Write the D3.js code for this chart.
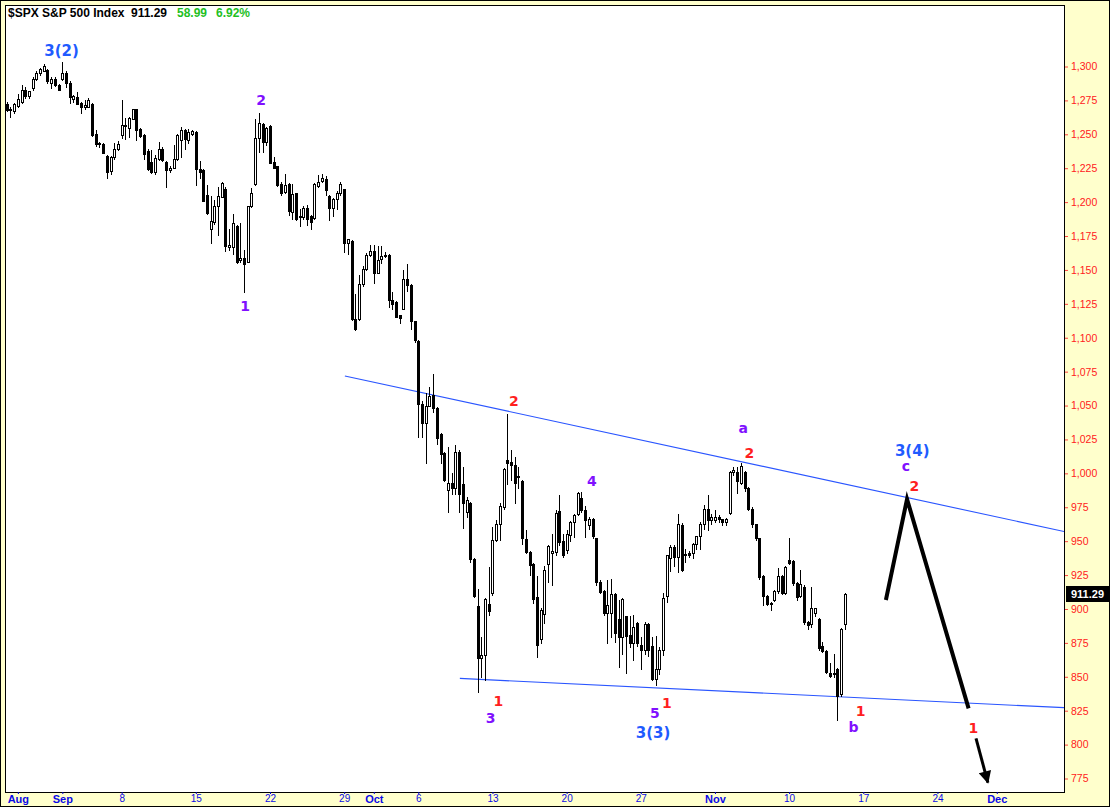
<!DOCTYPE html>
<html><head><meta charset="utf-8">
<script src="https://cdn.jsdelivr.net/npm/d3@7"></script>
<style>
html,body{margin:0;padding:0;background:#fff;}
svg{display:block;}
</style></head><body>
<svg id="chart" width="1110" height="807"></svg>
<script>
// ---------------- DATA ----------------
const calendarStart = "2008-08-26";
const calendarEnd = "2008-12-05";
const holidays = ["2008-09-01", "2008-11-27"];
const barsPerDay = 4;
const firstSlot = 1; // first visible bar = 2nd bar of Aug 26

const opens = [
1272,1268,1267,
1271,1274,1283,1278, 1284,1291,1295.5,1297, 1297.5,1288,1291,1286.5,
1290.5,1295,1288,1276, 1277.5,1273,1270,1270.5, 1272,1250,1243.5,1243, 1234,1223,1233.5,1239,
1249.5,1257,1255,1261.5, 1268.5,1254,1249.5,1238, 1229.5,1222,1231.5,1239.5, 1229.5,1224,1225.5,1231.5, 1246,1253,1246,1250.5,
1251.5,1224.5,1223.5,1205.5, 1180,1185,1197,1204, 1210,1167,1167,1182.5, 1157,1159,1156,1197.5, 1213,1247,1257.5,1244,
1256,1229.5,1226.5,1213.5, 1207.5,1213.5,1193,1206.5, 1190,1189,1195.5,1190, 1188,1212,1215.5,1217, 1204.5,1195.5,1202,1207,
1209.5,1170,1171.5,1113.5, 1113.5,1139.5,1151,1161, 1164,1148,1158,1161, 1161,1128,1126.5,1116.5, 1121,1143,1139,1112,
1097.5,1051,1037.5,1049.5, 1057.5,1048.5,1029,1015, 988,993,989.5,1016, 992.5,971.5,978,937, 902,863.5,866,904,
912,951,963,975.5, 1010,1008.5,1006,998, 994.5,951.5,942,933, 909,877.5,896.5,933.5, 941.5,942,972,950,
943.5,954.5,964,970, 982,973,962,966, 952,920,913.5,897, 897,911,892.5,879, 894.5,881,875,890,
873.5,870,889,872.5, 848,855.5,870,909.5, 937.5,945.5,938,962, 939.5,941,941,948, 953.5,962.5,974,965.5,
965.5,967.5,966,964, 970.5,1001,1001,993, 1001,989.5,974,962.5, 952,924.5,909.5,904.5, 906.5,913,924.5,912,
936,935.5,919.5,909.5, 916.5,890.5,889,897, 892.5,872.5,869,853, 853,856,837.5,889
];
const highs = [
1274,1270,1273,
1280,1286,1285,1282, 1292,1297,1299,1301.5, 1298,1292,1292,1287,
1303,1297,1289.5,1279, 1281,1273.5,1275,1276.5, 1273,1253,1244,1243.5, 1234.5,1234,1243.5,1245,
1275,1262,1263,1269, 1269,1255,1250,1239, 1238.5,1235,1244,1240.5, 1230,1226.5,1242,1250, 1255.5,1254,1254,1253.5,
1252.5,1230,1224.5,1212.5, 1204.5,1201.5,1211.5,1214.5, 1211,1180,1191.5,1183, 1184.5,1164.5,1197.5,1210.5, 1261,1265.5,1258,1255.5,
1256.5,1233.5,1227,1215, 1221,1214,1213.5,1207, 1195,1197,1198,1190.5, 1214,1220,1220.5,1219, 1205,1203,1208,1215,
1210,1173,1172,1132.5, 1146,1153,1162.5,1168.5, 1168.5,1167.5,1167.5,1163, 1161.5,1134,1127,1117, 1150,1154.5,1139.5,1112.5,
1098,1053,1059,1063.5, 1073,1049,1029.5,1016, 1019.5,1000,1021,1017, 1005,982.5,979,937.5, 915,879,908,931,
960.5,965.5,978,1004, 1044,1017.5,1012,1005, 995,958,943,934, 924,901,931.5,947, 955,973,984,955,
958,965,970,986, 986.5,976,968,967, 952.5,921,914,921, 922,912,906.5,908, 895,895,895.5,890.5,
879,890.5,889.5,879.5, 880,872,911.5,940, 947,947,970,963.5, 944,943,949,954, 964,976.5,984,970,
973,969,966.5,967, 1002,1005,1005,1008, 1002,990,975,963, 952.5,925,910,905, 914,930,925,931.5,
952,936,920,928.5, 918,891,916.5,901, 893,876,869.5,860, 866.5,856.5,886,911.5
];
const lows = [
1267,1263,1266,
1270,1273,1277,1277, 1283,1290,1294,1297, 1287.5,1284.5,1285.5,1282.5,
1290,1285,1273,1273.5, 1272,1266,1269,1270, 1248.5,1241.5,1241,1236, 1217.5,1221,1232,1238.5,
1247,1246.5,1248,1261, 1246,1248,1232,1223.5, 1221.5,1221,1231,1230.5, 1211.5,1222.5,1225,1231, 1233.5,1239.5,1243.5,1249.5,
1212.5,1217.5,1200.5,1191.5, 1169.5,1184,1176,1203.5, 1164,1164.5,1161.5,1155, 1156,1133.5,1155.5,1196.5, 1212.5,1237,1237,1242,
1228.5,1225,1212,1205.5, 1206.5,1190.5,1187.5,1187, 1182.5,1187.5,1183,1180, 1187.5,1211.5,1214.5,1205.5, 1187,1189.5,1195,1205,
1163,1162,1113,1106, 1113,1138,1150,1160, 1140.5,1147.5,1155,1159.5, 1122.5,1121.5,1115,1111, 1121,1134.5,1106.5,1097,
1026.5,1026.5,1007.5,1049.5, 1045.5,1022,1007.5,994, 971.5,985,985,971.5, 959.5,968,935,909, 839,850,847.5,895.5,
910,950,951,974, 992.5,995,978,989, 948,941,925,904.5, 864.5,875,890,920, 917.5,939.5,947,938.5,
941,950,953,969, 971.5,953,959,952, 918,911.5,895.5,875, 879,876,857.5,867, 852.5,872,862.5,873,
856,867,865,847.5, 844,852,866,905, 928,932,927.5,928, 935,938,937.5,944, 944.5,959,958,963,
964,964,962,962, 970,999,985.5,992, 987,973,960.5,951, 922,903,903,899, 906,912,911,911,
933,918,906.5,909, 889,885,887,895, 870,868.5,852.5,850, 850,818.5,835.5,885.5
];
const closes = [
1268,1269,1272,
1276,1283,1278,1282, 1291,1295.5,1298,1300.5, 1289,1291,1286,1283,
1295,1287.5,1277.5,1278.5, 1272.5,1270,1271.5,1275, 1249.5,1243,1242.5,1236.5, 1222.5,1233.5,1239,1243,
1257,1256,1262,1268.5, 1253.5,1249,1235.5,1224.5, 1222,1232.5,1239.5,1231, 1223.5,1225.5,1231.5,1249.5, 1253,1246.5,1251.5,1252.5,
1224.5,1222.5,1201,1192, 1186,1197,1204.5,1214, 1168,1168.5,1184.5,1156, 1159,1154.5,1197,1206.5, 1247,1258,1244,1255,
1229,1225.5,1212.5,1207, 1212.5,1193.5,1206,1187.5, 1189,1195.5,1187.5,1185.5, 1213,1215,1217.5,1209, 1196,1202,1206.5,1213.5,
1170,1172.5,1113.5,1106.5, 1139.5,1151,1161,1164, 1148,1157.5,1160,1161, 1128,1125,1115,1114.5, 1143,1139,1112,1098.5,
1051,1037.5,1049.5,1057, 1048.5,1026,1014,995, 993,989,1016,985, 978,980,936.5,909.5, 863.5,866,907.5,898.5,
951,963,976,1003, 1007.5,1006,993,997, 952,942,932.5,907, 873.5,899.5,929,946.5, 942.5,970.5,949.5,940,
955,964,969.5,985.5, 973,965.5,966,953.5, 920,912.5,897,903, 911,882.5,879,907, 880,875,887,875,
869.5,889,870,848, 855.5,870,908,939.5, 945.5,938,963,928.5, 940.5,940,948,953.5, 963,974,965.5,968,
968,966,964.5,966, 1001,1002.5,994,1005.5, 989,974,962.5,952, 923.5,909.5,903.5,903.5, 913,924.5,912,931,
934,919.5,909,918.5, 890.5,888,901,900.5, 871,869,853.5,850.5, 852,836,885.5,911.29
];

const tickDates = ["2008-08-27","2008-09-02","2008-09-08","2008-09-15","2008-09-22","2008-09-29","2008-10-01","2008-10-06","2008-10-13","2008-10-20","2008-10-27","2008-11-03","2008-11-10","2008-11-17","2008-11-24","2008-12-01"];
const tickLabels = ["Aug","Sep","8","15","22","29","Oct","6","13","20","27","Nov","10","17","24","Dec"];
const monthLabels = ["Aug","Sep","Oct","Nov","Dec"];
const priceTicks = [775,800,825,850,875,900,925,950,975,1000,1025,1050,1075,1100,1125,1150,1175,1200,1225,1250,1275,1300];

const lastPrice = 911.29, netChange = 58.99, pctChange = 6.92;

// trend lines [slot, price]
const upperLineSlots = [92.2, 286.4], upperLinePrices = [1071.8, 957];
const lowerLineSlots = [123.2, 286.4], lowerLinePrices = [848.8, 827.2];
// projected path
const projSlots = [238.1, 243.8, 260.4], projPrices = [906.6, 981, 826.7];
const arrowSlots = [262.4, 265.6], arrowPrices = [804.6, 772];

// wave labels
const waveText  = ["3(2)","2","1","2","a","2","4","3(4)","c","2","1","3","5","1","3(3)","1","b","1"];
const waveKind  = ["blue","purple","purple","red","purple","red","purple","blue","purple","red","red","purple","purple","red","blue","red","purple","red"];
const waveSlot  = [15.8,69.6,65.3,137.8,199.6,201.3,158.8,245.2,243.5,245.8,133.6,131.5,175.8,179,175.3,231.3,229.4,261.7];
const wavePrice = [1307.6,1271.6,1119.7,1049.8,1029.5,1011.1,990.6,1013.1,1001.9,987.1,828.4,815.8,819.3,827.1,804.8,821.0,809.6,808.2];

// ---------------- CHART ----------------
function tradingDays(startISO, endISO, hol) {
  const out = [];
  const d = new Date(startISO + "T12:00:00Z");
  const end = new Date(endISO + "T12:00:00Z");
  while (d <= end) {
    const wd = d.getUTCDay();
    const iso = d.toISOString().slice(0, 10);
    if (wd !== 0 && wd !== 6 && !hol.includes(iso)) out.push(iso);
    d.setUTCDate(d.getUTCDate() + 1);
  }
  return out;
}
const days = tradingDays(calendarStart, calendarEnd, holidays);

const W = 1110, H = 807;
const PL = 5, PT = 5, PR = 1065, PB = 792;
const kindColor = {blue: "#1f5bff", purple: "#8010ff", red: "#ff1f1f"};
const kindSize = {blue: 15, purple: 14, red: 14};

const svg = d3.select("#chart");
svg.append("rect").attr("x", 0.5).attr("y", 0.5).attr("width", W - 1).attr("height", H - 1)
  .attr("fill", "#ffffcc").attr("stroke", "#000");
svg.append("rect").attr("x", PL + 0.5).attr("y", PT + 0.5).attr("width", PR - PL - 1).attr("height", PB - PT)
  .attr("fill", "#fff").attr("stroke", "#000");

svg.append("clipPath").attr("id", "clip").append("rect")
  .attr("x", PL + 1).attr("y", PT + 1).attr("width", PR - PL - 2).attr("height", PB - PT - 1);

const x = d3.scaleLinear().domain([0, 286.4]).range([3, 1065]);
const y = d3.scaleLinear().domain([775, 1300]).range([778.5, 66.5]);

const bars = opens.map((o, i) => ({slot: firstSlot + i, o, h: highs[i], l: lows[i], c: closes[i]}));

const g = svg.append("g").attr("clip-path", "url(#clip)");

// trend lines
const lineGen = d3.line().x(d => x(d[0])).y(d => y(d[1]));
g.append("path").datum(upperLineSlots.map((s, i) => [s, upperLinePrices[i]]))
  .attr("d", lineGen).attr("fill", "none").attr("stroke", "#2a55ff").attr("stroke-width", 1.1);
g.append("path").datum(lowerLineSlots.map((s, i) => [s, lowerLinePrices[i]]))
  .attr("d", lineGen).attr("fill", "none").attr("stroke", "#2a55ff").attr("stroke-width", 1.1);

// candles
const cg = g.append("g").attr("shape-rendering", "crispEdges");
bars.forEach(b => {
  const cx = Math.round(x(b.slot));
  const yh = Math.round(y(b.h)), yl = Math.round(y(b.l));
  const yo = Math.round(y(b.o)), yc = Math.round(y(b.c));
  const top = Math.min(yo, yc), bot = Math.max(yo, yc);
  const up = b.c >= b.o;
  cg.append("line").attr("x1", cx + 0.5).attr("x2", cx + 0.5).attr("y1", yh).attr("y2", yl + 1)
    .attr("stroke", "#000").attr("stroke-width", 1);
  cg.append("rect").attr("x", cx - 0.5).attr("y", top + 0.5).attr("width", 2).attr("height", Math.max(bot - top, 1))
    .attr("fill", up ? "#fff" : "#000").attr("stroke", "#000").attr("stroke-width", 1);
});

// projection path
g.append("path").datum(projSlots.map((s, i) => [s, projPrices[i]]))
  .attr("d", lineGen).attr("fill", "none").attr("stroke", "#000").attr("stroke-width", 4)
  .attr("stroke-linejoin", "miter").attr("stroke-miterlimit", 10);

// arrow
svg.append("defs").append("marker").attr("id", "ah").attr("viewBox", "0 0 10 10")
  .attr("refX", 9).attr("refY", 5).attr("markerWidth", 5).attr("markerHeight", 4.2)
  .attr("orient", "auto").attr("markerUnits", "strokeWidth")
  .append("path").attr("d", "M0,0 L10,5 L0,10 Z").attr("fill", "#000");
g.append("path").datum(arrowSlots.map((s, i) => [s, arrowPrices[i]]))
  .attr("d", lineGen).attr("fill", "none").attr("stroke", "#000").attr("stroke-width", 3)
  .attr("marker-end", "url(#ah)");

// wave labels
g.selectAll("text.wave").data(waveText).join("text").attr("class", "wave")
  .attr("x", (d, i) => x(waveSlot[i])).attr("y", (d, i) => y(wavePrice[i]))
  .attr("text-anchor", "middle")
  .attr("font-family", "'DejaVu Sans', Verdana, sans-serif").attr("font-weight", "bold")
  .attr("font-size", (d, i) => kindSize[waveKind[i]])
  .attr("fill", (d, i) => kindColor[waveKind[i]])
  .text(d => d);

// right price axis
const yAxis = d3.axisRight(y).tickValues(priceTicks).tickFormat(d3.format(",")).tickSize(3).tickPadding(3);
const ya = svg.append("g").attr("transform", `translate(${PR},0)`).call(yAxis);
ya.select(".domain").remove();
ya.selectAll(".tick line").attr("stroke", "#ff4040");
ya.selectAll(".tick text").attr("fill", "#ff2020")
  .attr("font-family", "'Liberation Sans', Arial, sans-serif").attr("font-size", 10.5);

// last price box
const lpY = y(lastPrice);
svg.append("rect").attr("x", PR + 1).attr("y", Math.round(lpY) - 8).attr("width", 43).attr("height", 16).attr("fill", "#000");
svg.append("text").attr("x", PR + 22.5).attr("y", Math.round(lpY) + 4).attr("text-anchor", "middle")
  .attr("font-family", "'Liberation Sans', Arial, sans-serif").attr("font-weight", "bold").attr("font-size", 11)
  .attr("fill", "#fff").text(d3.format(".2f")(lastPrice));

// bottom date axis
const tickSlots = tickDates.map(dt => days.indexOf(dt) * barsPerDay);
const xAxis = d3.axisBottom(x).tickValues(tickSlots).tickFormat((d, i) => tickLabels[i]).tickSize(2).tickPadding(1);
const xa = svg.append("g").attr("transform", `translate(0,${PB})`).call(xAxis);
xa.select(".domain").remove();
xa.selectAll(".tick line").attr("stroke", "#0000cc");
xa.selectAll(".tick text").attr("fill", "#0a0ae6")
  .attr("font-family", "'Liberation Sans', Arial, sans-serif")
  .attr("font-size", (d, i) => monthLabels.includes(tickLabels[i]) ? 11 : 10)
  .attr("font-weight", (d, i) => monthLabels.includes(tickLabels[i]) ? "bold" : "normal");

// title
const title = svg.append("g").attr("font-family", "'Liberation Sans', Arial, sans-serif")
  .attr("font-weight", "bold").attr("font-size", 12);
title.append("text").attr("x", 8).attr("y", 17).attr("fill", "#000").text("$SPX S&P 500 Index");
title.append("text").attr("x", 131).attr("y", 17).attr("fill", "#000").text(d3.format(".2f")(lastPrice));
title.append("text").attr("x", 177).attr("y", 17).attr("fill", "#1fc01f").text(d3.format(".2f")(netChange));
title.append("text").attr("x", 216).attr("y", 17).attr("fill", "#1fc01f").text(d3.format(".2f")(pctChange) + "%");
</script>
</body></html>
